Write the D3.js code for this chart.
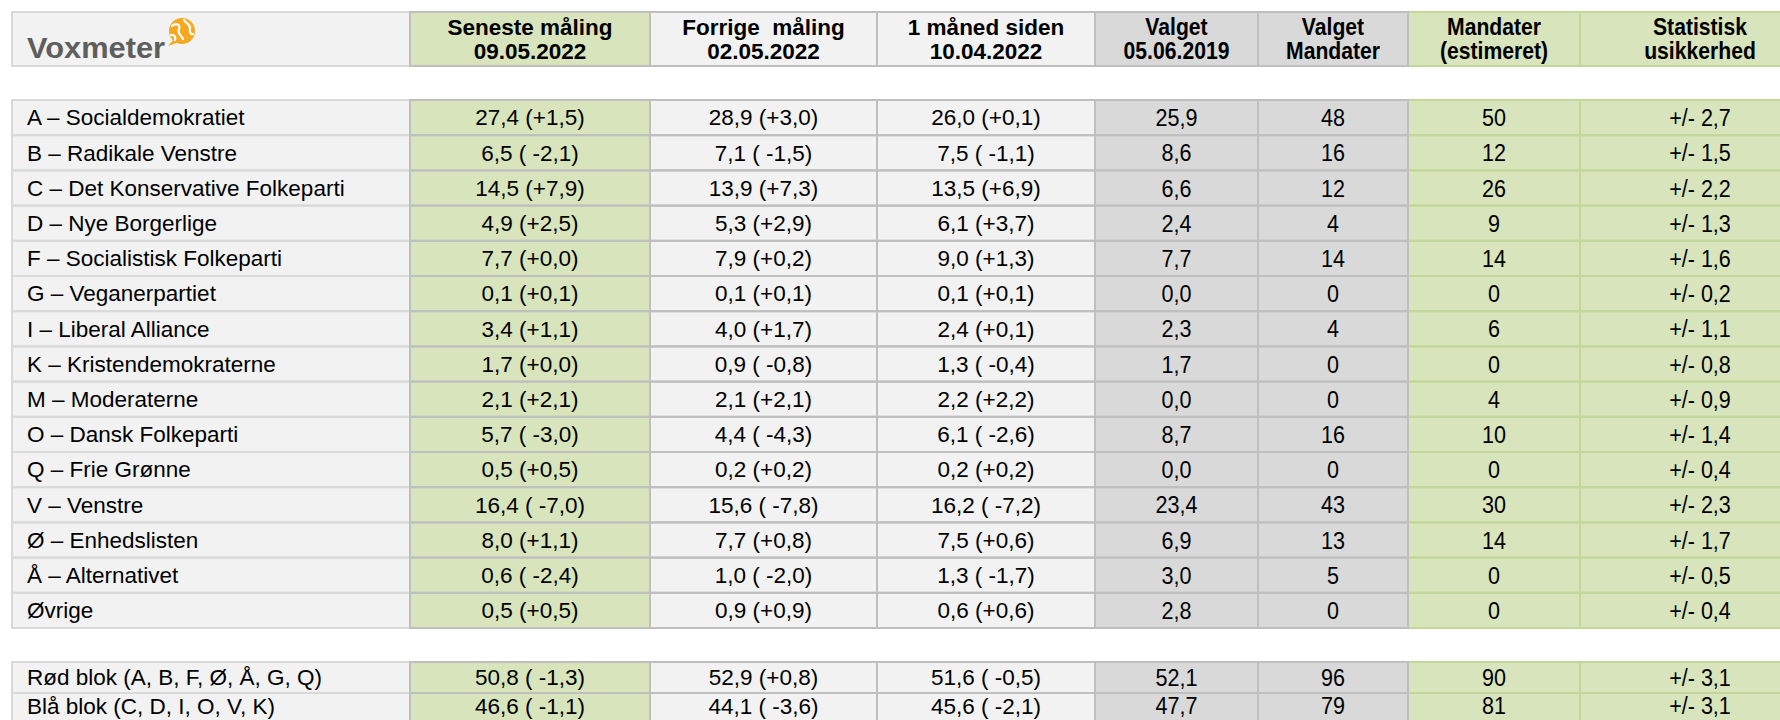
<!DOCTYPE html>
<html>
<head>
<meta charset="utf-8">
<script src="https://cdn.jsdelivr.net/npm/d3@7"></script>
<style>
  html, body { margin: 0; padding: 0; background: #fff; overflow: hidden; }
  svg { display: block; font-family: 'Liberation Sans', Arial, sans-serif; }
</style>
</head>
<body>
<svg class="chart"></svg>
<script>
// column headers (two lines each)
const headers = [
    null,
    ['Seneste måling', '09.05.2022'],
    ['Forrige  måling', '02.05.2022'],
    ['1 måned siden', '10.04.2022'],
    ['Valget', '05.06.2019'],
    ['Valget', 'Mandater'],
    ['Mandater', '(estimeret)'],
    ['Statistisk', 'usikkerhed'],
];

const parties = [
    'A – Socialdemokratiet', 'B – Radikale Venstre', 'C – Det Konservative Folkeparti',
    'D – Nye Borgerlige', 'F – Socialistisk Folkeparti', 'G – Veganerpartiet',
    'I – Liberal Alliance', 'K – Kristendemokraterne', 'M – Moderaterne',
    'O – Dansk Folkeparti', 'Q – Frie Grønne', 'V – Venstre', 'Ø – Enhedslisten',
    'Å – Alternativet', 'Øvrige',
];
const latest = [27.4, 6.5, 14.5, 4.9, 7.7, 0.1, 3.4, 1.7, 2.1, 5.7, 0.5, 16.4, 8.0, 0.6, 0.5];
const latestChange = [1.5, -2.1, 7.9, 2.5, 0.0, 0.1, 1.1, 0.0, 2.1, -3.0, 0.5, -7.0, 1.1, -2.4, 0.5];
const previous = [28.9, 7.1, 13.9, 5.3, 7.9, 0.1, 4.0, 0.9, 2.1, 4.4, 0.2, 15.6, 7.7, 1.0, 0.9];
const previousChange = [3.0, -1.5, 7.3, 2.9, 0.2, 0.1, 1.7, -0.8, 2.1, -4.3, 0.2, -7.8, 0.8, -2.0, 0.9];
const monthAgo = [26.0, 7.5, 13.5, 6.1, 9.0, 0.1, 2.4, 1.3, 2.2, 6.1, 0.2, 16.2, 7.5, 1.3, 0.6];
const monthAgoChange = [0.1, -1.1, 6.9, 3.7, 1.3, 0.1, 0.1, -0.4, 2.2, -2.6, 0.2, -7.2, 0.6, -1.7, 0.6];
const elected2019 = [25.9, 8.6, 6.6, 2.4, 7.7, 0.0, 2.3, 1.7, 0.0, 8.7, 0.0, 23.4, 6.9, 3.0, 2.8];
const seats2019 = [48, 16, 12, 4, 14, 0, 4, 0, 0, 16, 0, 43, 13, 5, 0];
const seatsEstimated = [50, 12, 26, 9, 14, 0, 6, 0, 4, 10, 0, 30, 14, 0, 0];
const uncertainty = [2.7, 1.5, 2.2, 1.3, 1.6, 0.2, 1.1, 0.8, 0.9, 1.4, 0.4, 2.3, 1.7, 0.5, 0.4];

const blocks = ['Rød blok (A, B, F, Ø, Å, G, Q)', 'Blå blok (C, D, I, O, V, K)'];
const blockLatest = [50.8, 46.6];
const blockLatestChange = [-1.3, -1.1];
const blockPrevious = [52.9, 44.1];
const blockPreviousChange = [0.8, -3.6];
const blockMonthAgo = [51.6, 45.6];
const blockMonthAgoChange = [-0.5, -2.1];
const blockElected2019 = [52.1, 47.7];
const blockSeats2019 = [96, 79];
const blockSeatsEstimated = [90, 81];
const blockUncertainty = [3.1, 3.1];

const width = 1780;
const height = 720;

const num = d3.format('.1f');
const dk = v => num(v).replace('.', ',');
const withChange = (v, c) => `${dk(v)} (${c < 0 ? ' -' : '+'}${dk(Math.abs(c))})`;
const plusMinus = v => `+/- ${dk(v)}`;

const toRows = (names, a, ac, b, bc, c, cc, e, s, m, u) => names.map((n, i) => [
    n, withChange(a[i], ac[i]), withChange(b[i], bc[i]), withChange(c[i], cc[i]),
    dk(e[i]), String(s[i]), String(m[i]), plusMinus(u[i]),
]);

const partyRows = toRows(parties, latest, latestChange, previous, previousChange,
    monthAgo, monthAgoChange, elected2019, seats2019, seatsEstimated, uncertainty);
const blockRows = toRows(blocks, blockLatest, blockLatestChange, blockPrevious, blockPreviousChange,
    blockMonthAgo, blockMonthAgoChange, blockElected2019, blockSeats2019, blockSeatsEstimated, blockUncertainty);

// column styling
const cols = [
    {fill: '#f2f2f2', stroke: '#d9d9d9', narrow: false},
    {fill: '#d8e4bc', stroke: '#bfbfbf', narrow: false},
    {fill: '#f2f2f2', stroke: '#bfbfbf', narrow: false},
    {fill: '#f2f2f2', stroke: '#bfbfbf', narrow: false},
    {fill: '#d9d9d9', stroke: '#bfbfbf', narrow: true},
    {fill: '#d9d9d9', stroke: '#bfbfbf', narrow: true},
    {fill: '#d8e4bc', stroke: '#c4d79b', narrow: true},
    {fill: '#d8e4bc', stroke: '#c4d79b', narrow: true},
];
const strokeOrder = [0, 6, 7, 1, 2, 3, 4, 5]; // gray borders drawn on top

const bodySize = 22.5;
const narrowBodySize = 24.5;
const narrowBodyScale = 0.88;
const headSize = 22.5;
const narrowHeadSize = 23.5;
const narrowHeadScale = 0.9;

// scales
const x = d3.scaleLinear()
    .domain(d3.range(9))
    .range([12, 410, 650, 877, 1095, 1258, 1408, 1580, 1820]);
const yHead = d3.scaleLinear().domain([0, 1]).range([12, 66]);
const yParty = d3.scaleLinear().domain([0, parties.length]).range([100, 628]);
const yBlock = d3.scaleLinear().domain([0, blocks.length]).range([662, 724]);

const svg = d3.select('.chart')
    .attr('width', width)
    .attr('height', height)
    .attr('viewBox', [0, 0, width, height]);

// build one flat list of cells
const cells = [];
headers.forEach((h, j) => cells.push({section: 'head', row: 0, col: j, y0: yHead(0), y1: yHead(1), text: h}));
partyRows.forEach((r, i) => r.forEach((t, j) =>
    cells.push({section: 'body', row: i, col: j, y0: yParty(i), y1: yParty(i + 1), text: t})));
blockRows.forEach((r, i) => r.forEach((t, j) =>
    cells.push({section: 'body', row: i, col: j, y0: yBlock(i), y1: yBlock(i + 1), text: t})));

svg.append('g')
    .selectAll('rect')
    .data(cells)
    .join('rect')
        .attr('x', d => x(d.col))
        .attr('y', d => d.y0)
        .attr('width', d => x(d.col + 1) - x(d.col))
        .attr('height', d => d.y1 - d.y0)
        .attr('fill', d => cols[d.col].fill);

svg.append('g')
    .attr('fill', 'none')
    .attr('stroke-width', 2)
    .selectAll('rect')
    .data(cells.slice().sort((a, b) => strokeOrder.indexOf(a.col) - strokeOrder.indexOf(b.col)))
    .join('rect')
        .attr('x', d => x(d.col))
        .attr('y', d => d.y0)
        .attr('width', d => x(d.col + 1) - x(d.col))
        .attr('height', d => d.y1 - d.y0)
        .attr('stroke', d => cols[d.col].stroke);

// header texts
const headG = svg.append('g')
    .attr('font-weight', 'bold')
    .attr('fill', '#000')
    .selectAll('g')
    .data(cells.filter(d => d.section === 'head' && d.text))
    .join('g')
        .attr('transform', d => `translate(${(x(d.col) + x(d.col + 1)) / 2},0)`);

headG.selectAll('text')
    .data(d => d.text.map((t, k) => ({t, k, narrow: cols[d.col].narrow})))
    .join('text')
        .attr('text-anchor', 'middle')
        .attr('font-size', d => d.narrow ? narrowHeadSize : headSize)
        .attr('transform', d => `translate(0,${d.k ? 59 : 35}) scale(${d.narrow ? narrowHeadScale : 1},1)`)
        .style('white-space', 'pre')
        .text(d => d.t);

// body texts
svg.append('g')
    .attr('fill', '#000')
    .selectAll('text')
    .data(cells.filter(d => d.section === 'body'))
    .join('text')
        .attr('text-anchor', d => d.col === 0 ? 'start' : 'middle')
        .attr('font-size', d => cols[d.col].narrow ? narrowBodySize : bodySize)
        .attr('transform', d => {
            const narrow = cols[d.col].narrow;
            const tx = d.col === 0 ? x(0) + 15 : (x(d.col) + x(d.col + 1)) / 2;
            const fs = narrow ? narrowBodySize : bodySize;
            const ty = Math.min((d.y0 + d.y1) / 2 + fs * 0.35, height - 6);
            return `translate(${tx},${ty}) scale(${narrow ? narrowBodyScale : 1},1)`;
        })
        .style('white-space', 'pre')
        .text(d => d.text);

// Voxmeter logo in the first header cell
const logo = svg.append('g')
    .attr('transform', `translate(${x(0) + 15},${yHead(0)})`);

logo.append('text')
    .attr('x', 0)
    .attr('y', 46)
    .attr('font-weight', 'bold')
    .attr('font-size', 30)
    .attr('textLength', 138)
    .attr('lengthAdjust', 'spacingAndGlyphs')
    .attr('fill', '#5e5e5e')
    .text('Voxmeter');

const globe = logo.append('g')
    .attr('transform', 'translate(155,19)');
globe.append('path')
    .attr('d', 'M-8,8 L-14,15 L-3,11 Z')
    .attr('fill', '#f6a821');
globe.append('circle')
    .attr('r', 13)
    .attr('fill', '#f6a821');
globe.append('path')
    .attr('d', 'M-10,-5 C-6,-9 -1,-6 -3,-2 C-5,2 -1,4 1,8 M2,-11 C4,-7 9,-7 8,-2 C7,2 10,4 11,3 M-11,4 C-8,3 -6,6 -7,9')
    .attr('fill', 'none')
    .attr('stroke', '#fff')
    .attr('stroke-width', 2.2)
    .attr('stroke-linecap', 'round');
</script>
</body>
</html>
